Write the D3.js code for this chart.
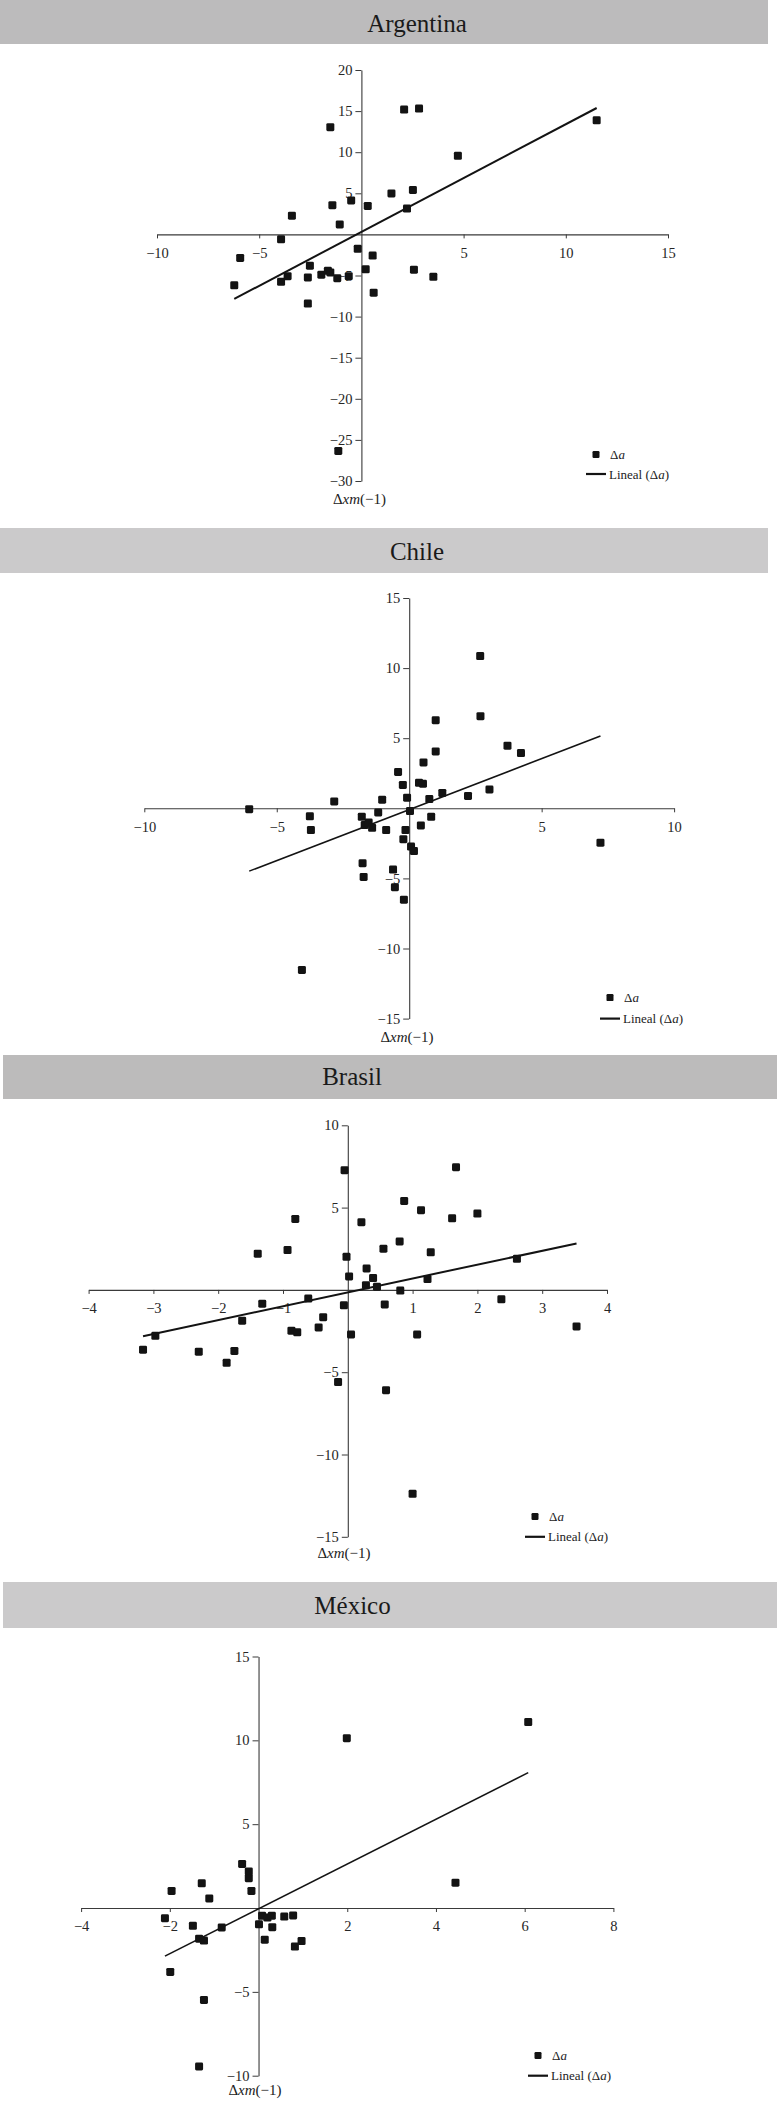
<!DOCTYPE html>
<html>
<head>
<meta charset="utf-8">
<script src="https://cdn.jsdelivr.net/npm/d3@7"></script>
<style>
  body { margin: 0; background: #fff; }
  svg { display: block; }
  text { font-family: "Liberation Serif", "DejaVu Serif", serif; }
</style>
</head>
<body>
<svg id="chart" width="780" height="2112"></svg>
<script>
// values, one pair of arrays per country
const countries = ['Argentina', 'Chile', 'Brasil', 'México']

const argentinaX = [-1.52, 2.09, 2.82, 11.51, 4.72, 1.47, 2.52, 2.23, -0.50, 0.31, -1.42, -3.40, -1.06, -3.93, -5.93, -0.18, 0.55, -6.22, -3.93, -3.61, -2.62, -2.52, -1.96, -1.64, -1.52, -1.18, -0.62, 0.21, 2.57, 3.52, 0.60, -2.62, -1.13]
const argentinaY = [13.05, 15.19, 15.31, 13.88, 9.56, 4.99, 5.40, 3.14, 4.13, 3.47, 3.55, 2.28, 1.21, -0.60, -2.86, -1.75, -2.57, -6.19, -5.77, -5.08, -5.24, -3.80, -4.91, -4.42, -4.63, -5.32, -5.08, -4.25, -4.29, -5.16, -7.09, -8.41, -26.34]

const chileX = [2.68, 2.69, 1.00, 1.00, 3.71, 4.22, 0.54, -0.42, -0.24, 0.37, 0.52, 3.03, 1.25, 2.22, -0.08, 0.76, -1.02, -2.83, -6.04, -3.75, -3.71, -1.79, -1.17, 0.03, 0.83, -1.68, -1.53, -1.40, -0.87, 0.44, -0.14, -0.22, 0.07, 0.18, 7.22, -1.76, -1.72, -0.61, -0.54, -0.20, -4.05]
const chileY = [10.86, 6.57, 6.28, 4.06, 4.47, 3.94, 3.27, 2.59, 1.67, 1.82, 1.75, 1.34, 1.10, 0.88, 0.76, 0.66, 0.61, 0.49, -0.06, -0.57, -1.55, -0.61, -0.30, -0.20, -0.61, -1.19, -1.02, -1.39, -1.55, -1.22, -1.55, -2.20, -2.73, -3.05, -2.45, -3.92, -4.90, -4.37, -5.63, -6.52, -11.53]

const brasilX = [-0.05, 1.67, 0.87, 1.13, 2.00, 1.61, -0.81, 0.21, 0.80, 0.55, -0.93, -1.39, 1.28, -0.02, 2.61, 0.29, 0.02, 0.39, 1.23, 0.28, 0.45, 0.81, -0.61, 2.37, -1.32, -0.06, 0.57, -0.38, -1.63, 3.53, -0.45, -0.87, -0.78, 0.05, 1.07, -2.97, -3.16, -2.30, -1.75, -1.87, -0.15, 0.59, 1.00]
const brasilY = [7.27, 7.45, 5.40, 4.84, 4.64, 4.35, 4.31, 4.11, 2.94, 2.50, 2.42, 2.20, 2.28, 2.01, 1.89, 1.30, 0.82, 0.72, 0.66, 0.29, 0.19, -0.04, -0.53, -0.57, -0.84, -0.94, -0.88, -1.66, -1.87, -2.22, -2.28, -2.48, -2.58, -2.71, -2.71, -2.79, -3.63, -3.75, -3.71, -4.43, -5.60, -6.09, -12.39]

const mexicoX = [6.08, 1.99, 4.44, -0.37, -0.22, -0.22, -1.28, -1.96, -0.16, -1.11, -2.11, -1.48, -0.83, 0.08, 0.20, 0.30, 0.58, 0.78, 0.01, 0.31, -1.34, -1.23, 0.14, 0.97, 0.82, -1.99, -1.23, -1.34]
const mexicoY = [11.09, 10.13, 1.51, 2.63, 2.18, 1.78, 1.47, 1.02, 1.02, 0.57, -0.61, -1.06, -1.16, -0.46, -0.57, -0.46, -0.51, -0.44, -0.97, -1.14, -1.83, -1.94, -1.89, -1.97, -2.30, -3.81, -5.48, -9.45]

// linear trend (Lineal) as drawn in each panel
const trendSlope = [1.31, 0.727, 0.842, 1.336]
const trendIntercept = [0.3, -0.09, -0.15, -0.05]

// axis domains and tick labels
const xDomains = [[-10, 15], [-10, 10], [-4, 4], [-4, 8]]
const yDomains = [[-30, 20], [-15, 15], [-15, 10], [-10, 15]]
const xTickValues = [[-10, -5, 5, 10, 15], [-10, -5, 5, 10], [-4, -3, -2, -1, 1, 2, 3, 4], [-4, -2, 2, 4, 6, 8]]
const yTickValues = [[-30, -25, -20, -15, -10, -5, 5, 10, 15, 20], [-15, -10, -5, 5, 10, 15], [-15, -10, -5, 5, 10], [-10, -5, 5, 10, 15]]

const seriesX = [argentinaX, chileX, brasilX, mexicoX]
const seriesY = [argentinaY, chileY, brasilY, mexicoY]

// page layout, pixels
const layout = [
  { head: [0, 0, 768, 44], headFill: '#bcbbbc', title: [417, 32], xr: [157, 668], yr: [481, 70], label: [359.5, 504], leg: [586, 474, 454.5], trendW: 2 },
  { head: [0, 528, 768, 45], headFill: '#cbcacb', title: [417, 560], xr: [144.3, 674.1], yr: [1018.6, 598], label: [407, 1042], leg: [600, 1018.6, 997.6], trendW: 1.6 },
  { head: [3, 1055, 774, 44], headFill: '#bcbbbb', title: [352, 1085], xr: [88.6, 607], yr: [1536.8, 1125.3], label: [344, 1558], leg: [525, 1536.8, 1516.5], trendW: 2 },
  { head: [3, 1582, 774, 46], headFill: '#cbcacb', title: [352.5, 1614], xr: [81.1, 613.4], yr: [2075.7, 1656.5], label: [255, 2095], leg: [528, 2075.7, 2055.5], trendW: 1.6 }
]

const svg = d3.select('#chart')
const ink = '#131313'
const axisInk = '#3a3a3a'
const box = 8

function drawPanel (i) {
  const L = layout[i]
  const g = svg.append('g').attr('class', 'panel')

  g.append('rect')
    .attr('x', L.head[0]).attr('y', L.head[1])
    .attr('width', L.head[2]).attr('height', L.head[3])
    .attr('fill', L.headFill)
  g.append('text')
    .attr('x', L.title[0]).attr('y', L.title[1])
    .attr('text-anchor', 'middle')
    .attr('font-size', 25)
    .attr('fill', '#1a1a1a')
    .text(countries[i])

  const x = d3.scaleLinear().domain(xDomains[i]).range(L.xr)
  const y = d3.scaleLinear().domain(yDomains[i]).range(L.yr)

  const xAxis = g.append('g')
    .attr('transform', `translate(0,${y(0)})`)
    .call(d3.axisBottom(x).tickValues(xTickValues[i]).tickSize(4).tickSizeOuter(0).tickPadding(9))
  const yAxis = g.append('g')
    .attr('transform', `translate(${x(0)},0)`)
    .call(d3.axisLeft(y).tickValues(yTickValues[i]).tickSize(6).tickSizeOuter(0).tickPadding(3))
  for (const ax of [xAxis, yAxis]) {
    ax.select('.domain').attr('stroke', axisInk).attr('stroke-width', 1.1)
    ax.selectAll('.tick line').attr('stroke', axisInk)
    ax.selectAll('.tick text').attr('fill', '#262626').attr('font-size', 14.5)
      .attr('font-family', '"Liberation Serif", serif')
  }

  // trend line over the range of the data
  const [x0, x1] = d3.extent(seriesX[i])
  const line = d3.line().x(d => x(d)).y(d => y(trendSlope[i] * d + trendIntercept[i]))
  g.append('path')
    .attr('d', line([x0, x1]))
    .attr('fill', 'none')
    .attr('stroke', ink)
    .attr('stroke-width', L.trendW)

  g.append('g').selectAll('rect')
    .data(d3.range(seriesX[i].length))
    .join('rect')
    .attr('x', k => x(seriesX[i][k]) - box / 2)
    .attr('y', k => y(seriesY[i][k]) - box / 2)
    .attr('width', box).attr('height', box)
    .attr('rx', 1.4)
    .attr('fill', ink)

  // axis title
  const lab = g.append('text')
    .attr('x', L.label[0]).attr('y', L.label[1])
    .attr('text-anchor', 'middle')
    .attr('font-size', 15)
    .attr('fill', '#222')
  lab.append('tspan').text('Δ')
  lab.append('tspan').attr('font-style', 'italic').text('xm')
  lab.append('tspan').text('(−1)')

  // legend
  const [lx, ly, my] = L.leg
  g.append('rect')
    .attr('x', lx + 10 - 3.5).attr('y', my - 3.5)
    .attr('width', 7).attr('height', 7).attr('rx', 1.2)
    .attr('fill', ink)
  const t1 = g.append('text')
    .attr('x', lx + 24).attr('y', my + 4.5)
    .attr('font-size', 13).attr('fill', '#222')
  t1.append('tspan').text('Δ')
  t1.append('tspan').attr('font-style', 'italic').text('a')
  g.append('line')
    .attr('x1', lx).attr('x2', lx + 20)
    .attr('y1', ly).attr('y2', ly)
    .attr('stroke', ink).attr('stroke-width', 2.2)
  const t2 = g.append('text')
    .attr('x', lx + 23).attr('y', ly + 4.5)
    .attr('font-size', 13).attr('fill', '#222')
  t2.append('tspan').text('Lineal (Δ')
  t2.append('tspan').attr('font-style', 'italic').text('a')
  t2.append('tspan').text(')')
}

countries.forEach((c, i) => drawPanel(i))
</script>
</body>
</html>
